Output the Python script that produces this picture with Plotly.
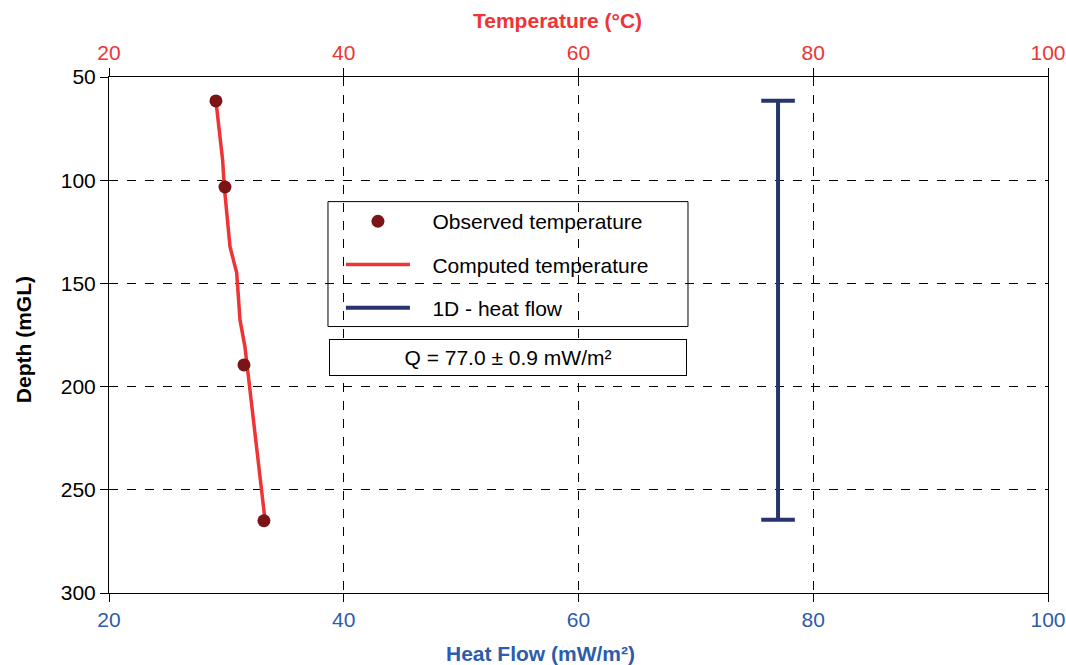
import plotly.graph_objects as go

# Observed temperature (°C) vs depth (m)
obs_depth = [61.6, 103.3, 189.5, 265.0]
obs_temp = [29.11, 29.88, 31.50, 33.20]

# Computed temperature profile
comp_depth = [61.6, 90.2, 103.1, 132.2, 144.9, 167.7, 180.6, 264.5]
comp_temp = [29.11, 29.68, 29.82, 30.31, 30.88, 31.16, 31.58, 33.29]

# 1D heat flow
hf_value = [77.0, 77.0]
hf_depth = [61.5, 264.5]

# Tick values
flow_ticks = [20, 40, 60, 80, 100]
temp_ticks = [20, 40, 60, 80, 100]
depth_ticks = [50, 100, 150, 200, 250, 300]

RED = "#EE3434"
DARKRED = "#7A1416"
NAVY = "#27356C"
BLUE = "#2D5CAA"
FONT = "Liberation Sans, Arial, sans-serif"
SP = "\u00a0\u00a0\u00a0"

fig = go.Figure()

fig.add_trace(go.Scatter(
    x=comp_temp, y=comp_depth, xaxis="x2", yaxis="y", mode="lines",
    line=dict(color=RED, width=3.5), name=SP + "Computed temperature",
    legendgroup="b", legendrank=2))
fig.add_trace(go.Scatter(
    x=obs_temp, y=obs_depth, xaxis="x2", yaxis="y", mode="markers",
    marker=dict(color=DARKRED, size=13), name=SP + "Observed temperature",
    legendgroup="a", legendrank=1, cliponaxis=False))
fig.add_trace(go.Scatter(
    x=hf_value, y=hf_depth, xaxis="x", yaxis="y", mode="lines",
    line=dict(color=NAVY, width=4), name=SP + "1D - heat flow",
    legendgroup="c", legendrank=3))
fig.add_trace(go.Scatter(
    x=hf_value, y=hf_depth, xaxis="x", yaxis="y", mode="markers",
    marker=dict(symbol="line-ew-open", size=24, color=NAVY,
                line=dict(color=NAVY, width=4)),
    showlegend=False, hoverinfo="skip", cliponaxis=False))

fig.update_layout(
    width=1066, height=665,
    margin=dict(l=109, r=18, t=77, b=72),
    paper_bgcolor="white", plot_bgcolor="white",
    font=dict(family=FONT, size=21, color="black"),
    showlegend=True,
    legend=dict(
        x=0.247, y=0.7595, xanchor="left", yanchor="top",
        bgcolor="rgba(0,0,0,0)", borderwidth=0,
        font=dict(size=21, color="black", family=FONT),
        tracegroupgap=13, itemwidth=64, traceorder="grouped"),
    xaxis=dict(
        range=[20, 100], tickvals=flow_ticks, ticks="outside", ticklen=8,
        tickcolor="black", tickfont=dict(color=BLUE, size=21),
        showline=True, linecolor="black", linewidth=1,
        showgrid=True, gridcolor="black", griddash="dash", gridwidth=1,
        zeroline=False, automargin=False),
    xaxis2=dict(
        range=[20, 100], tickvals=temp_ticks, overlaying="x", side="top",
        anchor="y", ticks="outside", ticklen=8, tickcolor="black",
        tickfont=dict(color=RED, size=21),
        showline=True, linecolor="black", linewidth=1,
        showgrid=False, zeroline=False, automargin=False),
    yaxis=dict(
        range=[300, 50], tickvals=depth_ticks,
        ticks="outside", ticklen=8, tickcolor="black",
        tickfont=dict(color="black", size=21),
        showline=True, linecolor="black", linewidth=1, mirror=True,
        showgrid=True, gridcolor="black", griddash="dash", gridwidth=1,
        zeroline=False, automargin=False),
)

# Axis titles
fig.add_annotation(xref="paper", yref="paper", x=0.46, y=0, yshift=-60,
                   text="<b>Heat Flow (mW/m²)</b>", showarrow=False,
                   font=dict(color=BLUE, size=21), xanchor="center",
                   yanchor="middle")
fig.add_annotation(xref="paper", yref="paper", x=0.478, y=1, yshift=57,
                   text="<b>Temperature (°C)</b>", showarrow=False,
                   font=dict(color=RED, size=21), xanchor="center",
                   yanchor="middle")
fig.add_annotation(xref="paper", yref="paper", x=0, xshift=-86, y=0.49,
                   text="<b>Depth (mGL)</b>", showarrow=False, textangle=-90,
                   font=dict(color="black", size=21), xanchor="center",
                   yanchor="middle")

# Legend frame
fig.add_shape(type="rect", xref="paper", yref="paper",
              x0=0.2332, x1=0.6166, y0=0.5164, y1=0.7585,
              line=dict(color="black", width=1), fillcolor="white",
              layer="below")

# Heat flow result box
fig.add_annotation(
    xref="paper", yref="paper", x=0.4244, y=0.4557,
    text="Q = 77.0 ± 0.9 mW/m²", showarrow=False,
    font=dict(size=21, color="black", family=FONT),
    bordercolor="black", borderwidth=1, bgcolor="white",
    width=354, height=33, xanchor="center", yanchor="middle")

fig.write_html(
    "out.html",
    config={"displayModeBar": False},
    post_script="document.body.style.margin='0';"
                "document.body.style.overflow='hidden';")
